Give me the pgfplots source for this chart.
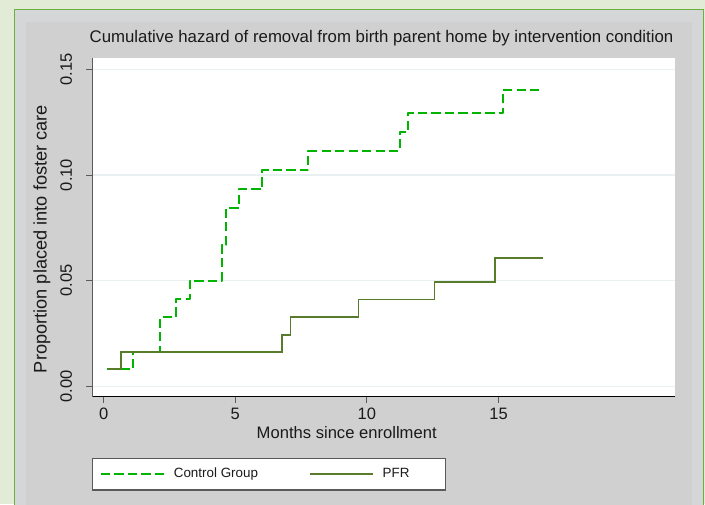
\documentclass[border=0pt]{standalone}
\usepackage{pgfplots}
\pgfplotsset{compat=1.18}
\usepackage{fontspec}
\setmainfont{Liberation Sans}
\definecolor{outergreen}{HTML}{E1EBD5}
\definecolor{framegreen}{HTML}{6DB040}
\definecolor{bandgray}{HTML}{D5D6D8}
\definecolor{innergray}{HTML}{D0D0D0}
\definecolor{ctrlgreen}{HTML}{00B400}
\definecolor{pfrgreen}{HTML}{587C2C}
\definecolor{gridc}{HTML}{E8F0F2}
\definecolor{axisgray}{HTML}{5A5A5A}
\definecolor{txt}{HTML}{1A1A1A}
\pgfplotstableread{
x y
0.14 0.0082
1.13 0.0164
2.16 0.0329
2.76 0.0414
3.27 0.0500
4.48 0.0670
4.65 0.0845
5.15 0.0933
6.03 0.1023
7.78 0.1112
11.24 0.1204
11.56 0.1295
15.17 0.1402
16.61 0.1402
}\ctrl
\pgfplotstableread{
x y
0.15 0.0082
0.66 0.0163
6.77 0.0244
7.10 0.0328
9.68 0.0411
12.57 0.0495
14.87 0.0607
16.70 0.0607
}\pfr
\begin{document}
\begin{tikzpicture}[x=1pt,y=1pt]
\useasboundingbox (0,0) rectangle (705,504);
\fill[outergreen] (0,0) rectangle (705,504);
\filldraw[fill=bandgray, draw=framegreen, line width=1.3pt] (14.5,-10) rectangle (703.5,494.5);
\fill[innergray] (26,-10) rectangle (691.7,482);
\begin{axis}[
  at={(92.3pt,107.3pt)}, anchor=south west,
  scale only axis, width=582.7pt, height=338.4pt,
  xmin=-0.429, xmax=21.70, ymin=-0.00487, ymax=0.1552,
  axis background/.style={fill=white},
  axis x line*=bottom, axis y line*=left,
  x axis line style={-, black, line width=1pt},
  y axis line style={-, axisgray, line width=1pt},
  tick align=outside, major tick length=6pt,
  tick style={axisgray, line width=0.9pt},
  xtick={0,5,10,15}, xticklabels={0,5,10,15},
  ytick={0,0.05,0.1,0.15}, yticklabels={0.00,0.05,0.10,0.15},
  ymajorgrids, grid style={gridc, line width=1.2pt},
  ticklabel style={font=\fontsize{16.5}{18}\selectfont, text=txt},
  yticklabel style={rotate=90, anchor=south, inner sep=0pt},
  xticklabel style={anchor=north, inner sep=0pt},
  yticklabel shift=14pt,
  xticklabel shift=5pt,
  legend columns=2,
  legend cell align=left,
  legend image code/.code={\draw[#1] (0pt,0pt) -- (63pt,0pt);},
  legend style={at={(0,-0.181)}, anchor=north west, draw=axisgray, line width=1.1pt, fill=white,
    inner xsep=7pt, inner ysep=11pt,
    nodes={inner sep=0pt, text depth=0.2em, text height=0.75em, font=\fontsize{13.4}{16}\selectfont, text=txt},
    /tikz/every odd column/.append style={column sep=9pt},
    /tikz/every even column/.append style={column sep=51pt}},
]
\addplot[const plot, ctrlgreen, line width=2pt, line join=round, dash pattern=on 9.2pt off 4.3pt] table[x=x,y=y] {\ctrl};
\addlegendentry{Control Group}
\addplot[const plot, pfrgreen, line width=1.7pt] table[x=x,y=y] {\pfr};
\addlegendentry[text width=56pt, align=left]{PFR}
\end{axis}
\node[anchor=base, font=\fontsize{16.8}{20}\selectfont, text=txt] at (381.5,461.5) {Cumulative hazard of removal from birth parent home by intervention condition};
\node[anchor=base, font=\fontsize{16.6}{20}\selectfont, text=txt] at (346.7,65.7) {Months since enrollment};
\node[rotate=90, anchor=base, font=\fontsize{18.2}{22}\selectfont, text=txt] at (46.7,265) {Proportion placed into foster care};
\end{tikzpicture}
\end{document}
